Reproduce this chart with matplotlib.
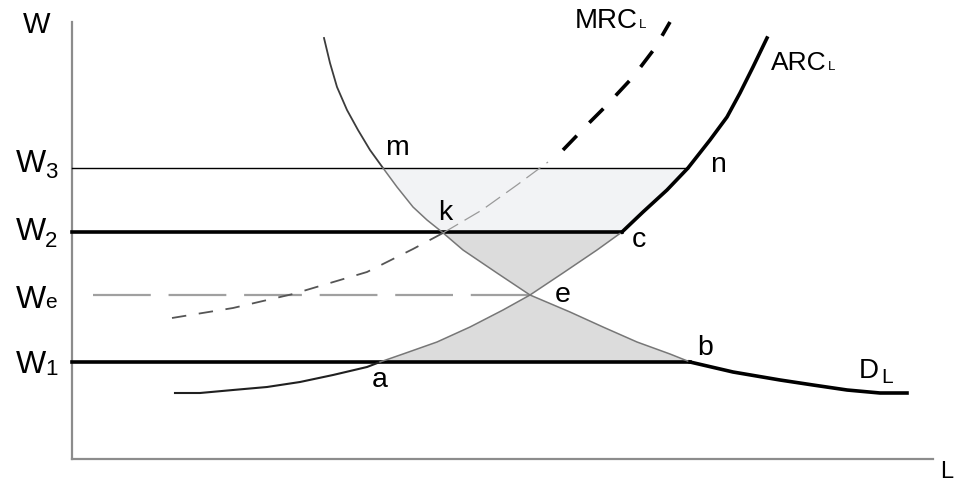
import numpy as np
import matplotlib
matplotlib.use("Agg")
import matplotlib.pyplot as plt

plt.rcParams['font.family'] = ['Liberation Sans', 'DejaVu Sans']

# wage levels
w3 = 29.1
w2 = 22.7
we = 16.4
w1 = 9.7

# demand for labour D_L  (L, W)
d_l = [25.2, 25.8, 26.5, 27.5, 28.6, 29.8, 31.1, 32.5, 34.1, 35.5, 37.0,
       39.1, 42.5, 45.8, 49.8, 53.1, 56.5, 59.8, 61.8, 66.1, 70.8, 74.1,
       77.5, 80.8, 83.5]
d_w = [42.1, 39.6, 37.2, 34.9, 32.9, 30.9, 29.1, 27.2, 25.2, 23.9, 22.7,
       20.9, 18.6, 16.4, 14.7, 13.2, 11.7, 10.5, 9.7, 8.7, 7.9, 7.4,
       6.9, 6.6, 6.6]

# average resource cost ARC_L
arc_l = [10.3, 12.8, 16.1, 19.5, 22.8, 26.1, 29.5, 30.8, 33.1, 36.5, 39.8,
         43.1, 45.8, 49.1, 52.5, 55.0, 57.1, 59.5, 61.6, 63.8, 65.5, 66.8,
         68.1, 69.5]
arc_w = [6.6, 6.6, 6.9, 7.2, 7.7, 8.4, 9.2, 9.7, 10.5, 11.7, 13.2,
         14.9, 16.4, 18.6, 20.9, 22.7, 24.7, 26.9, 29.1, 31.9, 34.2, 36.6,
         39.2, 42.1]

# marginal resource cost MRC_L
mrc_l = [10.0, 16.1, 22.1, 29.5, 34.1, 37.1, 41.0, 44.5, 47.6, 49.1, 51.8,
         53.3, 56.1, 58.3, 59.8]
mrc_w = [14.1, 15.1, 16.5, 18.7, 21.0, 22.6, 24.9, 27.4, 29.7, 30.9, 33.7,
         35.2, 38.2, 41.1, 43.7]

d_l, d_w = np.array(d_l), np.array(d_w)
arc_l, arc_w = np.array(arc_l), np.array(arc_w)
mrc_l, mrc_w = np.array(mrc_l), np.array(mrc_w)

fig = plt.figure(figsize=(9.57, 4.83), dpi=100)
ax = fig.add_axes([0, 0, 1, 1])
ax.set_xlim(-7.2, 88.5)
ax.set_ylim(-2.4, 45.9)
ax.axis('off')

# axes
ax.plot([0, 0], [0, 43.7], color='#8c8c8c', lw=1.6)
ax.plot([0, 86.1], [0, 0], color='#8c8c8c', lw=1.6)

i_m = np.argmin(abs(d_w - w3))
i_k = np.argmin(abs(d_w - w2))
i_e = np.argmin(abs(d_w - we))
i_b = np.argmin(abs(d_w - w1))
i_a = np.argmin(abs(arc_w - w1))
i_c = np.argmin(abs(arc_w - w2))
i_n = np.argmin(abs(arc_w - w3))

# shaded areas
light_x = np.concatenate([d_l[i_m:i_k + 1], arc_l[i_c:i_n + 1]])
light_y = np.concatenate([d_w[i_m:i_k + 1], arc_w[i_c:i_n + 1]])
ax.fill(light_x, light_y, color='#f2f3f5', lw=0, zorder=1)
gray_x = np.concatenate([d_l[i_k:i_b + 1], arc_l[i_a:i_c + 1]])
gray_y = np.concatenate([d_w[i_k:i_b + 1], arc_w[i_a:i_c + 1]])
ax.fill(gray_x, gray_y, color='#dcdcdc', lw=0, zorder=1)

# wage lines
ax.plot([0, arc_l[i_n]], [w3, w3], color='black', lw=1.0, zorder=3)
ax.plot([0, arc_l[i_c]], [w2, w2], color='black', lw=2.6, zorder=3)
ax.plot([0, d_l[i_b]], [w1, w1], color='black', lw=2.6, zorder=3)
ax.plot([2.1, d_l[i_e]], [we, we], color='#a0a0a0', lw=1.6,
        dashes=(26, 8), zorder=2)

# ARC_L
ax.plot(arc_l[:i_a + 1], arc_w[:i_a + 1], color='#202020', lw=1.5, zorder=4)
ax.plot(arc_l[i_a:i_c + 1], arc_w[i_a:i_c + 1], color='#777777', lw=1.1, zorder=4)
ax.plot(arc_l[i_c:], arc_w[i_c:], color='black', lw=2.6, zorder=4)

# D_L
ax.plot(d_l[:i_m + 1], d_w[:i_m + 1], color='#3c3c3c', lw=1.3, zorder=4)
ax.plot(d_l[i_m:i_b + 1], d_w[i_m:i_b + 1], color='#777777', lw=1.1, zorder=4)
ax.plot(d_l[i_b:], d_w[i_b:], color='black', lw=2.6, zorder=4)

# MRC_L
ax.plot(mrc_l[:6], mrc_w[:6], color='#555555', lw=1.3, dashes=(8, 7), zorder=4)
ax.plot(mrc_l[5:9], mrc_w[5:9], color='#9a9a9a', lw=0.9, dashes=(14, 6), zorder=4)
ax.plot(mrc_l[9:], mrc_w[9:], color='black', lw=2.6, dashes=(5.5, 5), zorder=4)

# labels on the W axis
ax.text(-3.5, 42.6, 'W', fontsize=21, ha='center', va='baseline')
for lev, sub, ys, fs in [(28.7, '3', 28.1, 16), (21.9, '2', 21.2, 16),
                         (15.1, 'e', 15.1, 15), (8.6, '1', 8.4, 16)]:
    ax.text(-2.6, lev, 'W', fontsize=23, ha='right', va='baseline')
    ax.text(-2.7, ys, sub, fontsize=fs, ha='left', va='baseline')
ax.text(87.5, -1.9, 'L', fontsize=17, ha='center', va='baseline')

# curve labels
ax.text(56.6, 43.1, 'MRC', fontsize=20, ha='right', va='baseline')
ax.text(56.7, 43.1, 'L', fontsize=9.5, ha='left', va='baseline')
ax.text(75.5, 38.9, 'ARC', fontsize=19, ha='right', va='baseline')
ax.text(75.6, 38.9, 'L', fontsize=9.5, ha='left', va='baseline')
ax.text(78.7, 8.1, 'D', fontsize=20, ha='left', va='baseline')
ax.text(80.9, 7.6, 'L', fontsize=15, ha='left', va='baseline')

# point labels
for s, x, y in [('m', 32.5, 30.4), ('k', 37.3, 23.9), ('n', 64.6, 28.7),
                ('c', 56.7, 21.2), ('e', 49.1, 15.7), ('b', 63.3, 10.4),
                ('a', 30.8, 7.2)]:
    ax.text(x, y, s, fontsize=20.5, ha='center', va='baseline')

fig.savefig('out.png', dpi=100)
